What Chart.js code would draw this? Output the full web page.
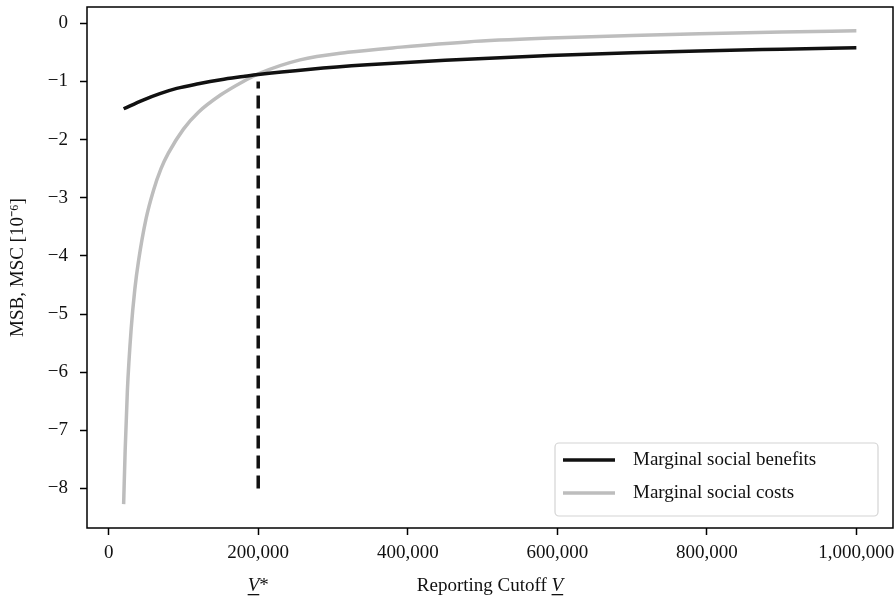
<!DOCTYPE html>
<html lang="en">
<head>
    <meta charset="UTF-8">
    <title>Marginal social benefits and costs</title>
    <style>
        html, body { margin: 0; padding: 0; background: #fff; }
        #wrap { width: 896px; height: 601px; position: relative; }
    </style>
</head>
<body>
    <div id="wrap"><canvas id="chart"></canvas></div>
    <script src="https://cdn.jsdelivr.net/npm/chart.js"></script>
    <script>
        // Marginal social benefits (black curve)
        const msbCutoff = [20000, 46000, 68500, 91000, 120000, 150000, 180000, 200000, 270000, 346000, 450000, 590000, 700000, 789000, 900000, 1000000];
        const msbValues = [-1.47, -1.32, -1.21, -1.12, -1.04, -0.97, -0.915, -0.88, -0.79, -0.715, -0.635, -0.555, -0.507, -0.475, -0.445, -0.42];

        // Marginal social costs (grey curve)
        const mscCutoff = [20000, 22000, 25000, 30000, 35000, 40000, 50000, 60000, 70000, 80000, 100000, 120000, 150000, 180000, 200000, 256000, 320000, 391000, 480000, 590000, 700000, 790000, 900000, 1000000];
        const mscValues = [-8.27, -7.36, -6.32, -5.27, -4.57, -4.08, -3.36, -2.87, -2.5, -2.23, -1.82, -1.53, -1.23, -1.0, -0.87, -0.63, -0.50, -0.41, -0.32, -0.255, -0.21, -0.18, -0.15, -0.13];

        // optimum cutoff marker
        const optimumCutoff = 200000;
        const optimumRange = [-8, -1];

        const xTicks = [0, 200000, 400000, 600000, 800000, 1000000];
        const yTicks = [0, -1, -2, -3, -4, -5, -6, -7, -8];

        const serif = '"Liberation Serif", "Times New Roman", serif';
        const fontSize = 19;

        const toPoints = (xs, ys) => xs.map((x, i) => ({ x: x, y: ys[i] }));

        // frame, legend, axis titles with underlined italic V
        const decorations = {
            id: 'decorations',
            afterDraw(chart) {
                const ctx = chart.ctx;
                const area = chart.chartArea;
                const xScale = chart.scales.x;

                ctx.save();
                ctx.strokeStyle = '#000';
                ctx.lineWidth = 1.5;
                ctx.strokeRect(area.left, area.top, area.right - area.left, area.bottom - area.top);

                // legend box in the lower right corner
                const boxW = 323, boxH = 73;
                const bx = area.right - 15 - boxW;
                const by = area.bottom - 12 - boxH;
                ctx.beginPath();
                ctx.roundRect(bx, by, boxW, boxH, 4);
                ctx.fillStyle = 'rgba(255,255,255,0.85)';
                ctx.fill();
                ctx.strokeStyle = '#d4d4d4';
                ctx.lineWidth = 1.2;
                ctx.stroke();

                ctx.font = fontSize + 'px ' + serif;
                ctx.textBaseline = 'middle';
                ctx.textAlign = 'left';
                chart.data.datasets.filter(d => d.label).forEach((d, i) => {
                    const ly = by + 17 + i * 33;
                    ctx.beginPath();
                    ctx.moveTo(bx + 8, ly);
                    ctx.lineTo(bx + 60, ly);
                    ctx.strokeStyle = d.borderColor;
                    ctx.lineWidth = d.borderWidth;
                    ctx.stroke();
                    ctx.fillStyle = '#111';
                    ctx.fillText(d.label, bx + 78, ly);
                });

                // x axis title: "Reporting Cutoff V" with V italic and underlined
                const drawV = (x, y, suffix) => {
                    ctx.font = 'italic ' + fontSize + 'px ' + serif;
                    const w = ctx.measureText('V').width;
                    ctx.fillText('V', x, y);
                    ctx.fillRect(x, y + 3, w, 1.3);
                    if (suffix) {
                        ctx.font = fontSize + 'px ' + serif;
                        ctx.fillText(suffix, x + w, y);
                    }
                };
                ctx.fillStyle = '#111';
                ctx.textBaseline = 'alphabetic';
                const titleY = 591;
                ctx.font = fontSize + 'px ' + serif;
                const mainText = 'Reporting Cutoff ';
                const mainW = ctx.measureText(mainText).width;
                ctx.font = 'italic ' + fontSize + 'px ' + serif;
                const vW = ctx.measureText('V').width;
                const cx = (area.left + area.right) / 2;
                const tx = cx - (mainW + vW) / 2;
                ctx.font = fontSize + 'px ' + serif;
                ctx.fillText(mainText, tx, titleY);
                drawV(tx + mainW, titleY);

                // V* under the optimum cutoff tick
                ctx.font = fontSize + 'px ' + serif;
                const starW = ctx.measureText('*').width;
                const ox = xScale.getPixelForValue(optimumCutoff) - (vW + starW) / 2;
                drawV(ox, titleY, '*');

                // y axis title
                ctx.translate(18, (area.top + area.bottom) / 2);
                ctx.rotate(-Math.PI / 2);
                ctx.textAlign = 'center';
                ctx.textBaseline = 'middle';
                ctx.font = fontSize + 'px ' + serif;
                ctx.fillText('MSB, MSC [10\u207B\u2076]', 0, 0);
                ctx.restore();
            }
        };

        const axisGrid = {
            display: true,
            drawOnChartArea: false,
            drawTicks: true,
            tickLength: 7,
            tickWidth: 1.5,
            tickColor: '#000',
            color: '#000'
        };

        new Chart(document.getElementById('chart'), {
            type: 'line',
            data: {
                datasets: [
                    {
                        label: 'Marginal social benefits',
                        data: toPoints(msbCutoff, msbValues),
                        borderColor: '#111111',
                        borderWidth: 3.5,
                        cubicInterpolationMode: 'monotone',
                        pointRadius: 0
                    },
                    {
                        label: 'Marginal social costs',
                        data: toPoints(mscCutoff, mscValues),
                        borderColor: '#bdbdbd',
                        borderWidth: 3.5,
                        cubicInterpolationMode: 'monotone',
                        pointRadius: 0
                    },
                    {
                        label: '',
                        data: optimumRange.map(v => ({ x: optimumCutoff, y: v })),
                        borderColor: '#111111',
                        borderWidth: 3.5,
                        borderDash: [13, 7],
                        borderCapStyle: 'butt',
                        pointRadius: 0
                    }
                ]
            },
            options: {
                responsive: true,
                maintainAspectRatio: false,
                animation: false,
                layout: { padding: { top: 7, right: 3, left: 0, bottom: 0 } },
                plugins: {
                    legend: { display: false },
                    tooltip: { enabled: false }
                },
                scales: {
                    x: {
                        type: 'linear',
                        min: -29000,
                        max: 1049000,
                        grid: axisGrid,
                        border: { display: false },
                        afterBuildTicks: s => { s.ticks = xTicks.map(v => ({ value: v })); },
                        afterFit: s => {
                            s.height = 73;
                            s.paddingLeft = 0;
                            s.paddingRight = 0;
                        },
                        ticks: {
                            color: '#111',
                            padding: 7,
                            maxRotation: 0,
                            font: { family: serif, size: fontSize },
                            callback: v => v.toLocaleString('en-US')
                        }
                    },
                    y: {
                        type: 'linear',
                        min: -8.68,
                        max: 0.28,
                        grid: axisGrid,
                        border: { display: false },
                        afterBuildTicks: s => { s.ticks = yTicks.map(v => ({ value: v })); },
                        afterFit: s => {
                            s.width = 87;
                            s.paddingTop = 0;
                            s.paddingBottom = 0;
                        },
                        ticks: {
                            color: '#111',
                            padding: 12,
                            font: { family: serif, size: fontSize },
                            callback: v => (v < 0 ? '\u2212' + Math.abs(v) : String(v))
                        }
                    }
                }
            },
            plugins: [decorations]
        });
    </script>
</body>
</html>
